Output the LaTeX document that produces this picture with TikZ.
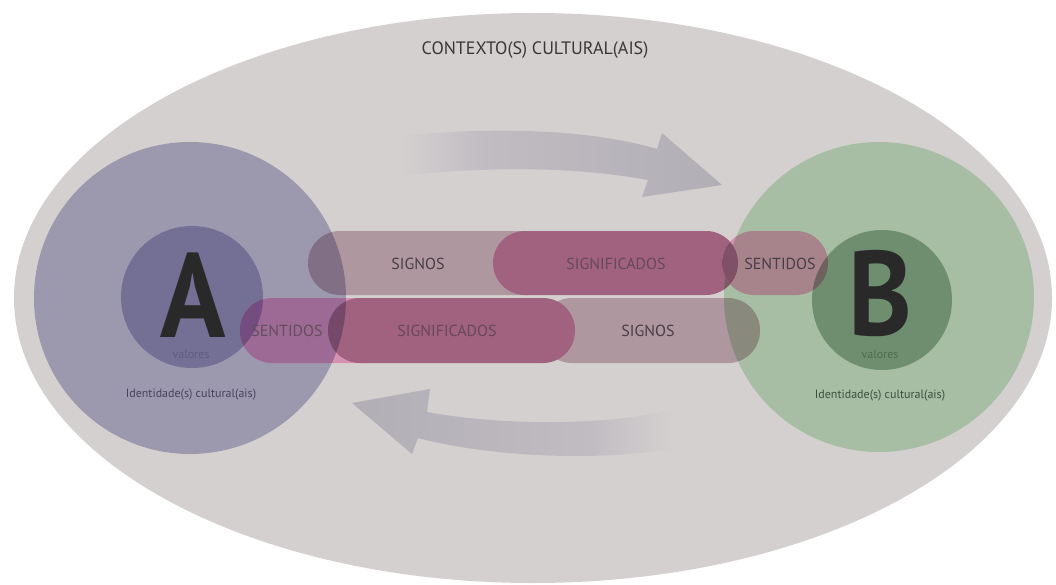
\documentclass[tikz,border=0pt]{standalone}
\usepackage{fontspec}
\setmainfont{PT Sans}
\newfontfamily\letterfont[FakeStretch=0.9]{PT Sans}
\usetikzlibrary{calc}

% palette
\definecolor{ctx}{RGB}{212,208,207}
\definecolor{arw}{RGB}{178,174,182}
\definecolor{arwa}{RGB}{205,201,203}
\definecolor{arwb}{RGB}{192,188,193}
\definecolor{signoscol}{RGB}{174,151,158}
\definecolor{signifcol}{RGB}{160,98,126}
\definecolor{sentidoscol}{RGB}{212,145,176}
\definecolor{lenscol}{RGB}{128,80,102}
\definecolor{circAcol}{RGB}{188,188,216}
\definecolor{innerAcol}{RGB}{190,185,218}
\definecolor{circBcol}{RGB}{201,233,203}
\definecolor{innerBcol}{RGB}{169,191,173}
\definecolor{labelcol}{RGB}{72,62,72}
\definecolor{signiflbl}{RGB}{104,72,92}
\definecolor{valAcol}{RGB}{94,90,130}
\definecolor{valBcol}{RGB}{80,108,82}
\definecolor{idAcol}{RGB}{70,68,90}
\definecolor{idBcol}{RGB}{60,80,62}

% fading band of the curved arrows
\pgfdeclarehorizontalshading{fadeleft}{100bp}{color(0bp)=(ctx); color(25bp)=(ctx); color(30bp)=(arwa); color(38bp)=(arwb); color(75bp)=(arw); color(100bp)=(arw)}
\pgfdeclarehorizontalshading{faderight}{100bp}{color(0bp)=(arw); color(25bp)=(arw); color(62bp)=(arwb); color(70bp)=(arwa); color(75bp)=(ctx); color(100bp)=(ctx)}

\tikzset{
  pill/.style={rounded corners=32pt},
  lbl/.style={font=\fontsize{16}{16}\selectfont, text=labelcol, inner sep=0pt, anchor=base},
  big/.style={font=\letterfont\fontsize{120}{120}\selectfont\bfseries, text=black!84, inner sep=0pt, text depth=0pt, anchor=base},
  small/.style={font=\fontsize{12}{12}\selectfont, inner sep=0pt, anchor=base},
}

\begin{document}
\begin{tikzpicture}[x=1pt,y=-1pt]
\useasboundingbox (0,0) rectangle (1056,585);
\fill[white] (0,0) rectangle (1056,585);

% cultural context
\fill[ctx] (533,298) ellipse [x radius=519, y radius=285];
\node[font=\fontsize{18}{18}\selectfont, text=black!78, inner sep=0pt, anchor=base] (ctxlbl) at (535,55) {CONTEXTO(S) CULTURAL(AIS)};

% curved arrows
\shade[shading=fadeleft]
  (400,136) .. controls (500,126) and (592,130) .. (657,149)
  -- (662,133) -- (722,185) -- (642,197) -- (648,180)
  .. controls (582,168) and (500,165) .. (400,176) -- cycle;
\shade[shading=faderight]
  (352,403) -- (430,389) -- (427,412)
  .. controls (490,424) and (600,428) .. (675,409)
  -- (675,448) .. controls (600,462) and (490,457) .. (418,438)
  -- (412,454) -- cycle;

% upper row of bands
\fill[signoscol, pill] (308,231) rectangle (560,295);
\fill[signifcol, pill] (493,231) rectangle (738,295);
\fill[sentidoscol, pill] (722,231) rectangle (828,295);

% lower row of bands
\fill[signoscol, pill] (540,298) rectangle (760,363);
\fill[sentidoscol, pill] (240,298) rectangle (400,363);
\fill[signifcol, pill] (328,298) rectangle (575,363);

% identities A and B
\begin{scope}[blend mode=multiply]
  \fill[circAcol] (190,298) circle [radius=156];
  \fill[innerAcol] (192,297) circle [radius=71];
  \fill[circBcol] (879,297) circle [radius=155];
  \fill[innerBcol] (882,300) circle [radius=70];
\end{scope}

% where the upper SIGNIFICADOS and SENTIDOS bands cross
\begin{scope}
  \clip[pill] (493,231) rectangle (738,295);
  \fill[lenscol, pill] (722,231) rectangle (828,295);
\end{scope}

% band labels
\node[lbl] (signosT) at (418,269) {SIGNOS};
\node[lbl, text=signiflbl] (signifT) at (616,269) {SIGNIFICADOS};
\node[lbl] (sentT) at (780,269) {SENTIDOS};
\node[lbl, text=labelcol!80!sentidoscol] (sentB) at (287,336) {SENTIDOS};
\node[lbl, text=signiflbl] (signifB) at (447,336) {SIGNIFICADOS};
\node[lbl] (signosB) at (648,336) {SIGNOS};

% identity labels
\node[big] (letA) at (193,337) {A};
\node[small, text=valAcol] (valA) at (191,358) {valores};
\node[small, text=idAcol] (idA) at (191,397) {Identidade(s) cultural(ais)};
\node[big] (letB) at (880,335) {B};
\node[small, text=valBcol] (valB) at (880,358) {valores};
\node[small, text=idBcol] (idB) at (880,398) {Identidade(s) cultural(ais)};
\end{tikzpicture}
\end{document}
